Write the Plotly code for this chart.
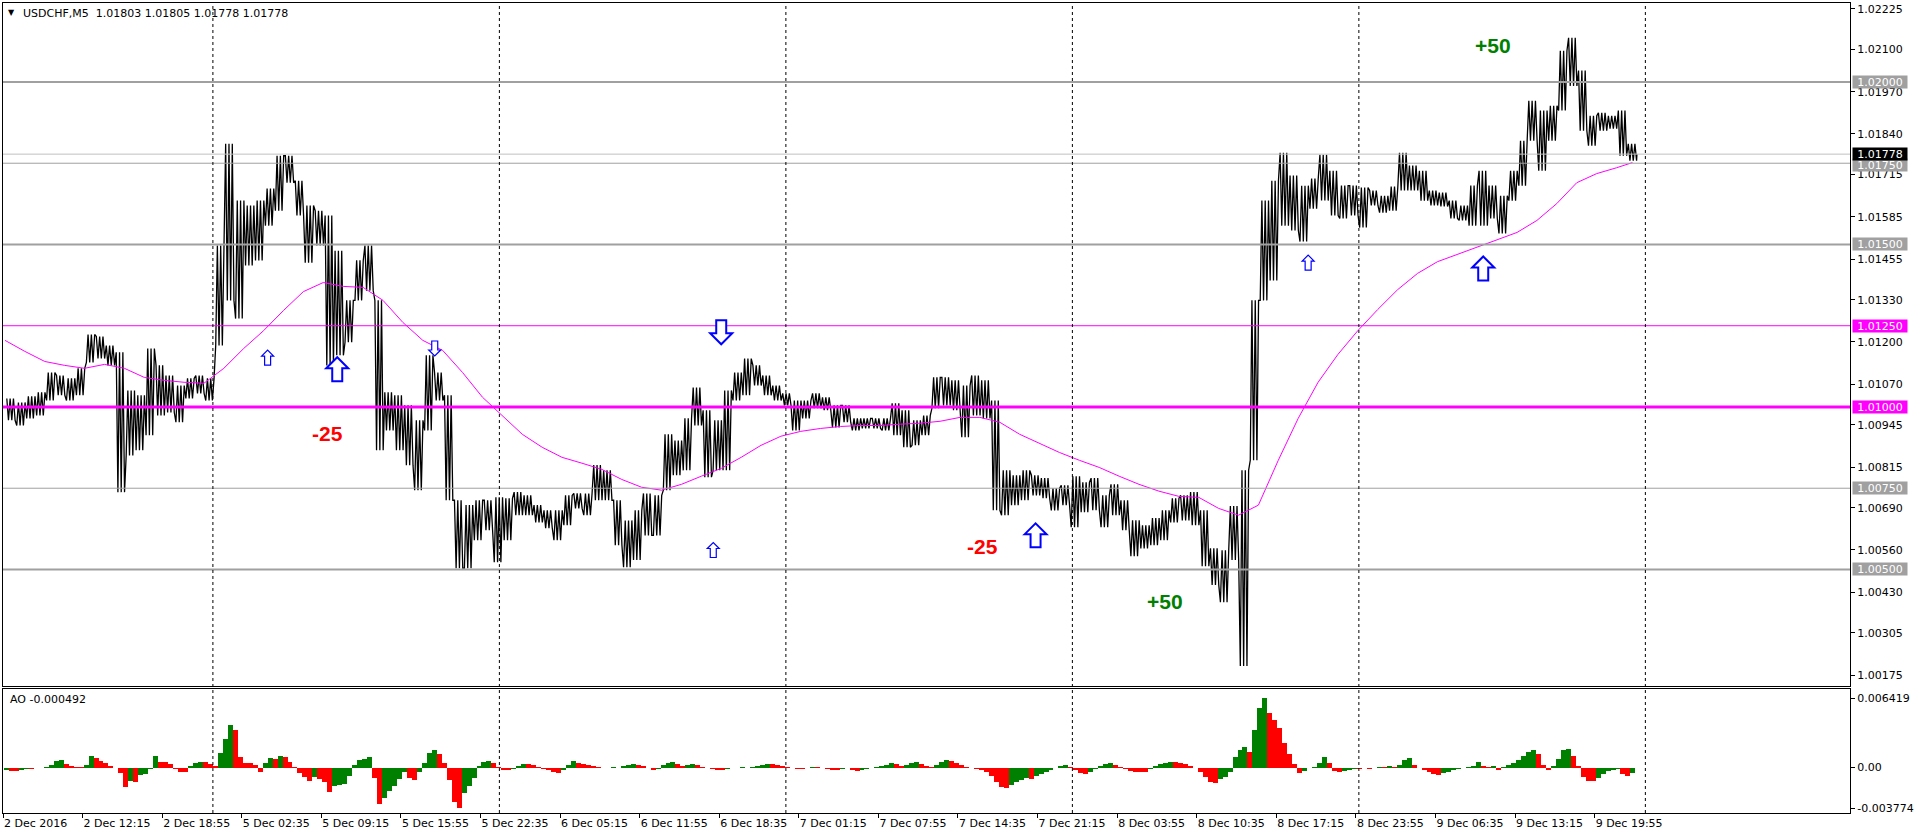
import plotly.graph_objects as go

# ------------------------------------------------------------------ data
header_text = "USDCHF,M5\u00a0\u00a01.01803 1.01805 1.01778 1.01778"
ao_header = "AO -0.000492"

time_labels = ["2 Dec 2016", "2 Dec 12:15", "2 Dec 18:55", "5 Dec 02:35", "5 Dec 09:15",
               "5 Dec 15:55", "5 Dec 22:35", "6 Dec 05:15", "6 Dec 11:55", "6 Dec 18:35",
               "7 Dec 01:15", "7 Dec 07:55", "7 Dec 14:35", "7 Dec 21:15", "8 Dec 03:55",
               "8 Dec 10:35", "8 Dec 17:15", "8 Dec 23:55", "9 Dec 06:35", "9 Dec 13:15",
               "9 Dec 19:55"]
bars_per_label = 80
day_start_bars = [211, 499, 787, 1075, 1363, 1651]

# price range (high / low) of each block of 10 M5 bars
first_bucket_bar = 3
bucket_size = 10
price_high = [
    1.01026, 1.01014, 1.01033, 1.01045, 1.01106, 1.01097, 1.01088, 1.01119, 1.01223, 1.01217,
    1.01189, 1.01168, 1.01051, 1.01036, 1.01180, 1.01128, 1.01097, 1.01066, 1.01088, 1.01097,
    1.01088, 1.01497, 1.01810, 1.01635, 1.01620, 1.01635, 1.01672, 1.01773, 1.01773, 1.01696,
    1.01620, 1.01604, 1.01589, 1.01481, 1.01328, 1.01451, 1.01497, 1.01328, 1.01045, 1.01036,
    1.01005, 1.00959, 1.01159, 1.01106, 1.01036, 1.00713, 1.00698, 1.00713, 1.00713, 1.00722,
    1.00719, 1.00738, 1.00728, 1.00698, 1.00682, 1.00682, 1.00728, 1.00734, 1.00734, 1.00821,
    1.00805, 1.00713, 1.00651, 1.00682, 1.00734, 1.00728, 1.00916, 1.00897, 1.00965, 1.01060,
    1.00990, 1.00959, 1.01051, 1.01106, 1.01149, 1.01128, 1.01097, 1.01066, 1.01042, 1.01020,
    1.01020, 1.01042, 1.01030, 1.01005, 1.01005, 1.00965, 1.00965, 1.00965, 1.00965, 1.01011,
    1.00990, 1.00959, 1.00974, 1.01091, 1.01091, 1.01082, 1.01066, 1.01097, 1.01082, 1.01020,
    1.00805, 1.00790, 1.00805, 1.00790, 1.00781, 1.00750, 1.00759, 1.00787, 1.00768, 1.00781,
    1.00728, 1.00762, 1.00713, 1.00651, 1.00636, 1.00658, 1.00682, 1.00719, 1.00728, 1.00738,
    1.00682, 1.00565, 1.00559, 1.00695, 1.00805, 1.01328, 1.01635, 1.01696, 1.01782, 1.01712,
    1.01681, 1.01703, 1.01776, 1.01727, 1.01681, 1.01681, 1.01675, 1.01666, 1.01650, 1.01678,
    1.01782, 1.01743, 1.01727, 1.01666, 1.01660, 1.01635, 1.01620, 1.01681, 1.01727, 1.01681,
    1.01650, 1.01727, 1.01819, 1.01942, 1.01912, 1.01927, 1.02096, 1.02136, 1.02035, 1.01896,
    1.01905, 1.01896, 1.01912, 1.01810]
price_low = [
    1.00959, 1.00943, 1.00965, 1.00974, 1.01020, 1.01036, 1.01020, 1.01036, 1.01137, 1.01149,
    1.01128, 1.00738, 1.00851, 1.00867, 1.00913, 1.00974, 1.00983, 1.00953, 1.01026, 1.01042,
    1.01020, 1.01189, 1.01328, 1.01272, 1.01435, 1.01451, 1.01558, 1.01604, 1.01690, 1.01589,
    1.01444, 1.01497, 1.01128, 1.01159, 1.01199, 1.01328, 1.01358, 1.00867, 1.00928, 1.00867,
    1.00821, 1.00744, 1.00928, 1.01020, 1.00713, 1.00504, 1.00504, 1.00590, 1.00621, 1.00522,
    1.00590, 1.00667, 1.00667, 1.00645, 1.00627, 1.00590, 1.00636, 1.00688, 1.00667, 1.00713,
    1.00713, 1.00575, 1.00507, 1.00529, 1.00605, 1.00605, 1.00744, 1.00790, 1.00805, 1.00943,
    1.00784, 1.00805, 1.00805, 1.01020, 1.01036, 1.01066, 1.01036, 1.01020, 1.01005, 1.00928,
    1.00965, 1.00996, 1.00990, 1.00937, 1.00953, 1.00928, 1.00934, 1.00934, 1.00928, 1.00913,
    1.00876, 1.00882, 1.00913, 1.00996, 1.01005, 1.00990, 1.00907, 1.00974, 1.00965, 1.00682,
    1.00667, 1.00698, 1.00713, 1.00728, 1.00719, 1.00682, 1.00698, 1.00630, 1.00676, 1.00682,
    1.00630, 1.00667, 1.00621, 1.00541, 1.00565, 1.00575, 1.00590, 1.00645, 1.00651, 1.00636,
    1.00510, 1.00452, 1.00399, 1.00529, 1.00203, 1.00836, 1.01328, 1.01389, 1.01558, 1.01543,
    1.01509, 1.01610, 1.01635, 1.01589, 1.01580, 1.01589, 1.01552, 1.01620, 1.01598, 1.01604,
    1.01666, 1.01666, 1.01635, 1.01620, 1.01617, 1.01580, 1.01574, 1.01558, 1.01558, 1.01580,
    1.01534, 1.01635, 1.01681, 1.01819, 1.01727, 1.01819, 1.01912, 1.01988, 1.01850, 1.01804,
    1.01850, 1.01856, 1.01773, 1.01758]
last_close = 1.01778

# moving average, one value every 20 bars, plus the value on the last bar
ma_first_bar = 2
ma_step = 20
ma_values = [
    1.01205, 1.01171, 1.01140, 1.01128, 1.01119, 1.01131, 1.01119, 1.01091, 1.01082, 1.01076,
    1.01073, 1.01119, 1.01180, 1.01235, 1.01297, 1.01355, 1.01383, 1.01371, 1.01368, 1.01328,
    1.01260, 1.01205, 1.01174, 1.01106, 1.01030, 1.00974, 1.00916, 1.00876, 1.00845, 1.00827,
    1.00808, 1.00777, 1.00753, 1.00744, 1.00762, 1.00787, 1.00811, 1.00845, 1.00882, 1.00910,
    1.00925, 1.00934, 1.00940, 1.00943, 1.00943, 1.00947, 1.00950, 1.00956, 1.00968, 1.00968,
    1.00953, 1.00916, 1.00888, 1.00860, 1.00836, 1.00814, 1.00787, 1.00762, 1.00741, 1.00725,
    1.00722, 1.00688, 1.00667, 1.00698, 1.00836, 1.00965, 1.01076, 1.01162, 1.01235, 1.01300,
    1.01361, 1.01411, 1.01447, 1.01469, 1.01491, 1.01515, 1.01537, 1.01574, 1.01626, 1.01690,
    1.01718, 1.01736]
ma_last_bar = 1638
ma_last_value = 1.01752

# Awesome Oscillator, one value every 5 bars
ao_first_bar = 1
ao_step = 5
ao_values = [
    -0.00018, -0.00028, -0.00028, -0.00018, -0.00009, -0.00009, 0.0, 0.0, 0.00005, 0.00028,
    0.00065, 0.00074, 0.00037, 0.00018, 0.00009, 0.00005, 0.00028, 0.00111, 0.00092, 0.00065,
    0.00046, 0.00018, 0.0, -0.00046, -0.00176, -0.00120, -0.00129, -0.00065, -0.00055, -0.00009,
    0.00111, 0.00055, 0.00055, 0.00037, -0.00009, -0.00037, -0.00037, 0.00018, 0.00046, 0.00055,
    0.00055, 0.00037, 0.00018, 0.00139, 0.00268, 0.00397, 0.00351, 0.00102, 0.00046, 0.00046,
    0.00028, -0.00037, 0.00046, 0.00092, 0.00083, 0.00111, 0.00102, 0.00055, 0.00009, -0.00046,
    -0.00083, -0.00120, -0.00083, -0.00102, -0.00129, -0.00222, -0.00166, -0.00157, -0.00148, -0.00074,
    0.00028, 0.00074, 0.00083, 0.00102, -0.00092, -0.00333, -0.00277, -0.00213, -0.00166, -0.00102,
    -0.00037, -0.00092, -0.00111, -0.00037, 0.00046, 0.00139, 0.00166, 0.00129, 0.00046, -0.00111,
    -0.00314, -0.003774, -0.00231, -0.00166, -0.00092, 0.00018, 0.00055, 0.00065, 0.00046, 0.00009,
    -0.00018, -0.00018, -0.00009, 0.00018, 0.00037, 0.00037, 0.00028, 0.00009, -0.00009, -0.00018,
    -0.00037, -0.00046, -0.00018, 0.00028, 0.00065, 0.00046, 0.00037, 0.00028, 0.00018, 0.00009,
    0.0, 0.0, 0.00009, 0.0, 0.00018, 0.00028, 0.00037, 0.00028, 0.00018, 0.0,
    -0.00018, -0.00009, 0.00028, 0.00046, 0.00055, 0.00037, 0.00018, 0.00028, 0.00037, 0.00028,
    0.00009, 0.0, -0.00009, -0.00018, -0.00018, -0.00009, 0.0, 0.0, 0.00009, 0.0,
    0.00009, 0.00018, 0.00028, 0.00037, 0.00037, 0.00028, 0.00018, 0.00009, 0.0, -0.00009,
    -0.00009, 0.0, 0.00009, 0.00009, 0.0, -0.00009, -0.00018, -0.00018, -0.00009, 0.0,
    -0.00018, -0.00028, -0.00018, -0.00009, 0.0, 0.00009, 0.00018, 0.00028, 0.00046, 0.00037,
    0.00018, 0.00028, 0.00046, 0.00055, 0.00037, 0.00018, 0.00009, 0.00028, 0.00055, 0.00074,
    0.00065, 0.00046, 0.00028, 0.00009, 0.0, -0.00009, -0.00018, -0.00037, -0.00074, -0.00129,
    -0.00176, -0.00185, -0.00157, -0.00129, -0.00111, -0.00092, -0.00102, -0.00074, -0.00055, -0.00037,
    -0.00018, 0.0, 0.00018, 0.00028, 0.00009, -0.00018, -0.00046, -0.00055, -0.00037, -0.00009,
    0.00018, 0.00037, 0.00046, 0.00028, 0.00009, -0.00009, -0.00028, -0.00037, -0.00037, -0.00037,
    -0.00009, 0.00018, 0.00037, 0.00046, 0.00055, 0.00055, 0.00046, 0.00037, 0.00018, 0.0,
    -0.00037, -0.00083, -0.00129, -0.00139, -0.00102, -0.00083, -0.00037, 0.00102, 0.00166, 0.00194,
    0.00148, 0.00351, 0.00554, 0.006419, 0.00508, 0.00444, 0.00370, 0.00231, 0.00129, 0.00037,
    -0.00046, -0.00028, 0.0, 0.00009, 0.00046, 0.00102, 0.00046, -0.00028, -0.00037, -0.00028,
    -0.00018, -0.00009, -0.00009, 0.0, -0.00009, 0.0, 0.00009, 0.00009, 0.00018, 0.00009,
    0.00028, 0.00074, 0.00092, 0.00028, 0.0, -0.00018, -0.00037, -0.00055, -0.00065, -0.00046,
    -0.00037, -0.00018, -0.00009, 0.0, 0.00009, 0.00018, 0.00055, 0.00018, 0.00009, 0.00018,
    -0.00018, 0.00009, 0.00028, 0.00046, 0.00074, 0.00111, 0.00148, 0.00166, 0.00129, 0.00028,
    -0.00018, 0.00018, 0.00083, 0.00166, 0.00176, 0.00111, 0.00018, -0.00083, -0.00120, -0.00120,
    -0.00092, -0.00055, -0.00028, -0.00018, -0.00009, -0.00055, -0.00074, -0.000492]

price_ticks = [1.00175, 1.00305, 1.00430, 1.00560, 1.00690, 1.00815, 1.00945, 1.01070, 1.01200,
               1.01330, 1.01455, 1.01585, 1.01715, 1.01840, 1.01970, 1.02100, 1.02225]
ao_ticks = [0.006419, 0.0, -0.003774]
ao_tick_text = ["0.006419", "0.00", "-0.003774"]

gray_levels = [1.02000, 1.01750, 1.01500, 1.00750, 1.00500]
gray_widths = [2, 1, 2, 1, 2]
magenta_levels = [1.01250, 1.01000]
magenta_widths = [1, 3]

arrow_bars = [266, 336, 434, 722, 714, 1038, 1312, 1488]
arrow_prices = [1.01152, 1.01116, 1.01180, 1.01230, 1.00560, 1.00605, 1.01444, 1.01426]
arrow_dirs = ["up", "up", "down", "down", "up", "up", "up", "up"]
arrow_big = [False, True, False, True, False, True, False, True]

note_bars = [326, 985, 1168, 1498]
note_prices = [1.00919, 1.00572, 1.00403, 1.02111]
note_texts = ["-25", "-25", "+50", "+50"]
note_colors = ["#FF0000", "#FF0000", "#008000", "#008000"]

# ------------------------------------------------------------------ layout constants
W, H = 1916, 837
ML, MR, MT, MB = 3, 60, 2, 24
PW, PH = W - ML - MR, H - MT - MB
MAIN_BOTTOM_PX, AO_TOP_PX = 686, 689
X_RANGE = [0, PW / 0.998]
Y_MAIN = [1.00141, 1.02243]
Y_AO = [-0.00420, 0.00725]
FONT = "DejaVu Sans"
GREEN, RED = "#008000", "#FF0000"
STROKES = 6


def px_x(p):
    return (p - ML) / PW


def px_y(p):
    return (H - MB - p) / PH


# ------------------------------------------------------------------ price path
xs, ys = [], []
n = len(price_high)
for k in range(n):
    b0 = first_bucket_bar + k * bucket_size
    mid = (price_high[k] + price_low[k]) / 2
    nxt = (price_high[k + 1] + price_low[k + 1]) / 2 if k + 1 < n else last_close
    a, b = (price_low[k], price_high[k]) if nxt >= mid else (price_high[k], price_low[k])
    for j in range(STROKES):
        xs.append(b0 + bucket_size * (j + 0.5) / STROKES)
        ys.append(a if j % 2 == 0 else b)
xs.append(first_bucket_bar + n * bucket_size - 0.5)
ys.append(last_close)

ma_x = [ma_first_bar + i * ma_step for i in range(len(ma_values))] + [ma_last_bar]
ma_y = ma_values + [ma_last_value]

ao_x = [ao_first_bar + i * ao_step + ao_step / 2 for i in range(len(ao_values))]
ao_col = [GREEN if i == 0 or ao_values[i] > ao_values[i - 1] else RED
          for i in range(len(ao_values))]

fig = go.Figure()
fig.add_trace(go.Scatter(x=xs, y=ys, mode="lines", line=dict(color="black", width=1.3),
                         hoverinfo="skip", xaxis="x", yaxis="y"))
fig.add_trace(go.Scatter(x=ma_x, y=ma_y, mode="lines", line=dict(color="#FF00FF", width=1),
                         hoverinfo="skip", xaxis="x", yaxis="y"))
fig.add_trace(go.Bar(x=ao_x, y=ao_values, width=ao_step, marker=dict(color=ao_col, line=dict(width=0)),
                     hoverinfo="skip", xaxis="x2", yaxis="y2"))

shapes = []
for lv, wd in zip(gray_levels, gray_widths):
    shapes.append(dict(type="line", xref="paper", yref="y", x0=0, x1=1, y0=lv, y1=lv,
                       line=dict(color="#A0A0A0", width=wd)))
shapes.append(dict(type="line", xref="paper", yref="y", x0=0, x1=1, y0=last_close, y1=last_close,
                   line=dict(color="#C0C0C0", width=1)))
for lv, wd in zip(magenta_levels, magenta_widths):
    shapes.append(dict(type="line", xref="paper", yref="y", x0=0, x1=1, y0=lv, y1=lv,
                       line=dict(color="#FF00FF", width=wd)))
for b in day_start_bars:
    shapes.append(dict(type="line", xref="x", yref="paper", x0=b, x1=b, y0=0, y1=1,
                       line=dict(color="black", width=1, dash="3px,3px")))
for b, p, d, big in zip(arrow_bars, arrow_prices, arrow_dirs, arrow_big):
    w, h, hh, sw = (22, 24, 11, 10) if big else (12, 15, 6, 6)
    s = 1 if d == "up" else -1
    pts = [(-w / 2, s * (h / 2 - hh)), (0, s * h / 2), (w / 2, s * (h / 2 - hh)),
           (sw / 2, s * (h / 2 - hh)), (sw / 2, -s * h / 2), (-sw / 2, -s * h / 2),
           (-sw / 2, s * (h / 2 - hh))]
    path = "M" + " L".join(f"{x:.1f},{y:.1f}" for x, y in pts) + " Z"
    shapes.append(dict(type="path", xref="x", yref="y", xsizemode="pixel", ysizemode="pixel",
                       xanchor=b, yanchor=p, path=path, fillcolor="white",
                       line=dict(color="#0000FF", width=2 if big else 1.2)))

ann = []
ann.append(dict(text="\u25BC", xref="paper", yref="paper", x=px_x(6), y=px_y(12),
                xanchor="left", yanchor="middle", showarrow=False,
                font=dict(family=FONT, size=8, color="black")))
ann.append(dict(text=header_text, xref="paper", yref="paper", x=px_x(21), y=px_y(13),
                xanchor="left", yanchor="middle", showarrow=False,
                font=dict(family=FONT, size=11, color="black")))
ann.append(dict(text=ao_header, xref="paper", yref="paper", x=px_x(8), y=px_y(699),
                xanchor="left", yanchor="middle", showarrow=False,
                font=dict(family=FONT, size=11, color="black")))
for b, p, t, c in zip(note_bars, note_prices, note_texts, note_colors):
    ann.append(dict(text=f"<b>{t}</b>", x=b, y=p, xref="x", yref="y", showarrow=False,
                    xanchor="center", yanchor="middle",
                    font=dict(family="Liberation Sans", size=21, color=c)))


def level_label(val, bg, shift=0):
    return dict(text=f"{val:.5f}", xref="paper", yref="y", x=px_x(1858), y=val, yshift=shift,
                xanchor="left", yanchor="middle", showarrow=False, bgcolor=bg,
                width=54, height=12, borderpad=0, align="center",
                font=dict(family=FONT, size=11, color="white"))


for lv in gray_levels:
    ann.append(level_label(lv, "#A0A0A0", -2 if lv == 1.0175 else 0))
for lv in magenta_levels:
    ann.append(level_label(lv, "#FF00FF"))
ann.append(level_label(last_close, "black"))

main_dom = [px_y(MAIN_BOTTOM_PX), 1]
ao_dom = [0, px_y(AO_TOP_PX)]

axis_common = dict(showgrid=False, zeroline=False, showline=True, mirror=True,
                   linecolor="black", linewidth=1)
fig.update_layout(
    width=W, height=H, margin=dict(l=ML, r=MR, t=MT, b=MB, pad=0),
    paper_bgcolor="white", plot_bgcolor="white", showlegend=False, bargap=0,
    shapes=shapes, annotations=ann,
    xaxis=dict(range=X_RANGE, anchor="y", showticklabels=False, ticks="", **axis_common),
    xaxis2=dict(range=X_RANGE, anchor="y2", matches="x", tickmode="array",
                tickvals=[i * bars_per_label for i in range(len(time_labels))],
                ticktext=time_labels, ticks="outside", ticklen=4, tickcolor="black",
                ticklabelposition="outside right",
                tickfont=dict(family=FONT, size=11, color="black"), **axis_common),
    yaxis=dict(domain=main_dom, range=Y_MAIN, side="right", anchor="x", tickmode="array",
               tickvals=price_ticks, ticktext=[f"{v:.5f}" for v in price_ticks],
               ticks="outside", ticklen=4, tickcolor="black",
               tickfont=dict(family=FONT, size=11, color="black"), **axis_common),
    yaxis2=dict(domain=ao_dom, range=Y_AO, side="right", anchor="x2", tickmode="array",
                tickvals=ao_ticks, ticktext=ao_tick_text, ticks="outside", ticklen=4,
                tickcolor="black", tickfont=dict(family=FONT, size=11, color="black"),
                **axis_common),
)

fig.write_html("out.html", config=dict(displayModeBar=False, staticPlot=True),
               post_script="document.body.style.margin='0';document.body.style.overflow='hidden';")
